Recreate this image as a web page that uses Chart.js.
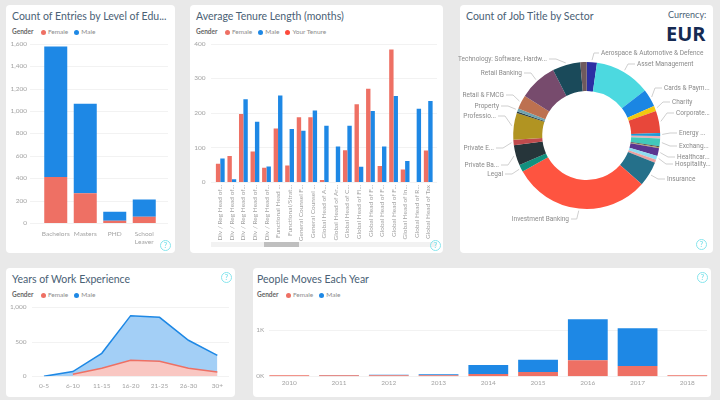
<!DOCTYPE html>
<html>
<head>
<meta charset="utf-8">
<title>Dashboard</title>
<script src="https://cdn.jsdelivr.net/npm/chart.js@4"></script>
<style>
    html, body { margin: 0; padding: 0; }
    body { width: 720px; height: 400px; background: #e9e9e9; overflow: hidden; position: relative; font-family: Lato, sans-serif; }
    canvas { position: absolute; left: 0; top: 0; }
    .card { position: absolute; background: #fff; border-radius: 4px; }
    .title { position: absolute; font-size: 10.5px; color: #4a6175; white-space: nowrap; line-height: 16px; }
    .legend { position: absolute; font-size: 6.5px; color: #8c8c8c; white-space: nowrap; line-height: 10px; display: flex; align-items: center; }
    .legend b { color: #666; font-weight: 700; margin-right: 7.5px; }
    .legend i { width: 5px; height: 5px; border-radius: 50%; display: inline-block; margin-right: 2px; }
    .legend span { margin-right: 6px; }
    .help { position: absolute; width: 9px; height: 9px; border: 1px solid #86e4ec; border-radius: 50%; color: #86e4ec; font-size: 7.5px; line-height: 9px; text-align: center; font-weight: 700; }
    .track { position: absolute; left: 211px; top: 242px; width: 226px; height: 5px; background: #f2f2f2; }
    .thumb { position: absolute; left: 264px; top: 242px; width: 35px; height: 5px; background: #bfbfbf; }
    .cur { position: absolute; color: #4a6175; font-size: 9px; left: 668px; top: 8px; line-height: 14px; }
    .eur { position: absolute; color: #152a52; font-family: "Open Sans", sans-serif; font-size: 20px; font-weight: 700; left: 666px; top: 20px; line-height: 28px; }
</style>
</head>
<body>
<script>
const femaleColor = '#ee7064';
const maleColor = '#1e88e5';
const tickColor = '#a3a3a3';

// Nivel de educacion
const eduLabels = ['Bachelors', 'Masters', 'PHD', ['School', 'Leaver']];
const eduFemale = [410, 265, 20, 55];
const eduMale = [1165, 800, 80, 155];
const eduTicks = [0, 200, 400, 600, 800, 1000, 1200, 1400, 1600];

// Antiguedad
const tenureLabels = ['Div / Reg Head of...', 'Div / Reg Head of...', 'Div / Reg Head of...', 'Div / Reg Head of...', 'Div / Reg Head of...',
    'Functional Head ...', 'Functional/Strat...', 'General Counsel F...', 'General Counsel ...', 'Global Head of A...',
    'Global Head of Ar...', 'Global Head of C...', 'Global Head of Fi...', 'Global Head of F...', 'Global Head of F...',
    'Global Head of F...', 'Global Head of In...', 'Global Head of R...', 'Global Head of Tax'];
const tenureFemale = [53, 75, 197, 88, 41, 155, 48, 187, 187, 6, 0, 92, 225, 270, 46, 383, 36, 0, 91];
const tenureMale = [68, 8, 239, 174, 45, 250, 153, 148, 207, 163, 103, 163, 44, 205, 103, 249, 61, 212, 234];
const tenureTicks = [0, 100, 200, 300, 400];

// Sectores
const sectorNames = ['Aerospace & Automotive & Defence', 'Asset Management', 'Cards & Paym...', 'Charity', 'Corporate...', 'Energy ...',
    'Consulting', 'Exchang...', 'Education', 'Government', 'Healthcar...', 'Hospitality...', 'Industrial', 'Insurance', 'Investment Banking',
    'Legal', 'Private Ba...', 'Private E...', 'Professio...', 'Publishing', 'Property', 'Retail & FMCG', 'Retail Banking',
    'Technology: Software, Hardw...', 'Transport'];
const sectorValues = [40, 220, 70, 20, 87, 12, 10, 30, 4, 4, 30, 16, 12, 98, 542, 28, 80, 22, 105, 6, 12, 55, 150, 110, 25];
const sectorColors = ['#2b2fa3', '#4cd9e0', '#1b86e3', '#f2c811', '#e8473a', '#1b9ad6', '#eab0b8', '#41c9bb', '#4a4a4a', '#b5a35a',
    '#5a3590', '#8fdcf0', '#eb9f9f', '#25708a', '#fe5440', '#12917f', '#26353a', '#c04b4d', '#b19422', '#2c3e46',
    '#6fa3ae', '#bd7150', '#774b6d', '#1a4a5a', '#6f5a5d'];

// Experiencia
const expLabels = ['0-5', '6-10', '11-15', '16-20', '21-25', '26-30', '30+'];
const expFemale = [null, 29, 116, 232, 217, 116, 63];
const expMale = [0, 68, 333, 879, 855, 522, 304];
const expTicks = [0, 500, 1000];

// Movimientos
const moveYears = ['2010', '2011', '2012', '2013', '2014', '2015', '2016', '2017', '2018'];
const moveFemale = [10, 2, 8, 10, 51, 94, 348, 225, 3];
const moveMale = [2, 6, 12, 25, 195, 268, 891, 818, null];
const moveTicks = [0, 1000];

// Posicion de las etiquetas del anillo (x, y de pagina, alineacion)
const sectorLabelPos = {
    'Aerospace & Automotive & Defence': [601, 53, 'left'],
    'Asset Management': [637, 64, 'left'],
    'Cards & Paym...': [664, 88, 'left'],
    'Charity': [672, 102, 'left'],
    'Corporate...': [676, 113, 'left'],
    'Energy ...': [679, 133, 'left'],
    'Exchang...': [679, 146, 'left'],
    'Healthcar...': [677, 157, 'left'],
    'Hospitality...': [675, 164, 'left'],
    'Insurance': [667, 179, 'left'],
    'Investment Banking': [569, 219, 'right'],
    'Legal': [503, 174, 'right'],
    'Private Ba...': [499, 165, 'right'],
    'Private E...': [494, 148, 'right'],
    'Professio...': [496, 116, 'right'],
    'Property': [499, 106, 'right'],
    'Retail & FMCG': [504, 95, 'right'],
    'Retail Banking': [522, 73, 'right'],
    'Technology: Software, Hardw...': [547, 59, 'right']
};

Chart.defaults.font.family = 'Lato, sans-serif';
Chart.defaults.font.size = 6.5;
Chart.defaults.color = tickColor;
Chart.defaults.animation = false;
Chart.defaults.plugins.legend.display = false;
Chart.defaults.plugins.tooltip.enabled = false;

function addDiv(cls, x, y, text, w, h) {
    const el = document.createElement('div');
    el.className = cls;
    if (x !== null && x !== undefined) el.style.left = x + 'px';
    if (y !== null && y !== undefined) el.style.top = y + 'px';
    if (w) el.style.width = w + 'px';
    if (h) el.style.height = h + 'px';
    if (text) el.textContent = text;
    document.body.appendChild(el);
    return el;
}

function addLegend(x, y, items) {
    const el = addDiv('legend', x, y);
    el.innerHTML = '<b>Gender</b>' + items.map(it => `<i style="background:${it[1]}"></i><span>${it[0]}</span>`).join('');
}

function newCanvas() {
    const c = document.createElement('canvas');
    c.width = 720;
    c.height = 400;
    c.style.width = '720px';
    c.style.height = '400px';
    document.body.appendChild(c);
    return c;
}

// Lineas de cuadricula mas anchas que el area de barras
const wideGrid = {
    id: 'wideGrid',
    beforeDatasetsDraw(chart, args, opts) {
        const y = chart.scales.y;
        const ctx = chart.ctx;
        ctx.save();
        ctx.strokeStyle = '#f2f2f2';
        ctx.lineWidth = 1;
        y.ticks.forEach(t => {
            const py = Math.round(y.getPixelForValue(t.value)) + 0.5;
            ctx.beginPath();
            ctx.moveTo(opts.x0, py);
            ctx.lineTo(opts.x1, py);
            ctx.stroke();
        });
        ctx.restore();
    }
};

// Escalas con area de dibujo fija en coordenadas de pagina
function pinnedOptions(box, yMax, yTicks, yFmt, gridX, xExtra, yPad) {
    return {
        responsive: false,
        layout: { padding: { left: 0, top: box.t, right: 720 - box.r, bottom: 0 } },
        plugins: { wideGrid: { x0: gridX[0], x1: gridX[1] } },
        scales: {
            x: Object.assign({
                stacked: false,
                grid: { display: false, drawTicks: false },
                border: { display: false },
                afterFit(s) { s.height = 400 - box.b; }
            }, xExtra),
            y: {
                min: 0,
                max: yMax,
                grid: { display: false, drawTicks: false },
                border: { display: false },
                ticks: { padding: yPad, callback: yFmt, color: tickColor },
                afterBuildTicks(s) { s.ticks = yTicks.map(v => ({ value: v })); },
                afterFit(s) { s.width = box.l; }
            }
        }
    };
}

function stackedSets(female, male, pct, minLen) {
    return [
        { label: 'Female', data: female, backgroundColor: femaleColor, barPercentage: pct, categoryPercentage: 1, minBarLength: minLen },
        { label: 'Male', data: male, backgroundColor: maleColor, barPercentage: pct, categoryPercentage: 1 }
    ];
}

function crearEducacion() {
    const opts = pinnedOptions({ l: 41, t: 43.7, r: 159, b: 223 }, 1600, eduTicks, v => v.toLocaleString('en-US'), [30, 168],
        { stacked: true, offset: true, ticks: { padding: 7, maxRotation: 0, autoSkip: false, color: tickColor } }, 14);
    opts.scales.y.stacked = true;
    new Chart(newCanvas(), {
        type: 'bar',
        plugins: [wideGrid],
        data: { labels: eduLabels, datasets: stackedSets(eduFemale, eduMale, 0.78, 0) },
        options: opts
    });
}

function crearAntiguedad() {
    const opts = pinnedOptions({ l: 214.5, t: 43.7, r: 434, b: 182 }, 400, tenureTicks, v => v, [211, 437],
        { offset: true, ticks: { padding: 3, minRotation: 90, maxRotation: 90, autoSkip: false, color: tickColor } }, 9);
    new Chart(newCanvas(), {
        type: 'bar',
        plugins: [wideGrid],
        data: {
            labels: tenureLabels,
            datasets: [
                { label: 'Female', data: tenureFemale, backgroundColor: femaleColor, barPercentage: 1, categoryPercentage: 0.76 },
                { label: 'Male', data: tenureMale, backgroundColor: maleColor, barPercentage: 1, categoryPercentage: 0.76 }
            ]
        },
        options: opts
    });
}

// Etiquetas y lineas guia del anillo
const sectorLabels = {
    id: 'sectorLabels',
    afterDraw(chart) {
        const ctx = chart.ctx;
        const arcs = chart.getDatasetMeta(0).data;
        ctx.save();
        ctx.font = '6.5px Roboto, sans-serif';
        ctx.textBaseline = 'middle';
        sectorNames.forEach((name, i) => {
            const pos = sectorLabelPos[name];
            if (!pos) return;
            const a = arcs[i];
            const mid = (a.startAngle + a.endAngle) / 2;
            const sx = a.x + Math.cos(mid) * (a.outerRadius + 2);
            const sy = a.y + Math.sin(mid) * (a.outerRadius + 2);
            const dir = pos[2] === 'left' ? -1 : 1;
            const ex = pos[0] + dir * 2;
            const kx = pos[0] + dir * Math.min(Math.abs(ex - sx), 9);
            ctx.strokeStyle = '#cfcfcf';
            ctx.lineWidth = 1;
            ctx.beginPath();
            ctx.moveTo(sx, sy);
            ctx.lineTo(kx, pos[1]);
            ctx.lineTo(ex, pos[1]);
            ctx.stroke();
            ctx.fillStyle = '#8a8a8a';
            ctx.textAlign = pos[2];
            ctx.fillText(name, pos[0], pos[1]);
        });
        ctx.restore();
    }
};

function crearSectores() {
    new Chart(newCanvas(), {
        type: 'doughnut',
        plugins: [sectorLabels],
        data: {
            labels: sectorNames,
            datasets: [{ data: sectorValues, backgroundColor: sectorColors, borderWidth: 0 }]
        },
        options: {
            responsive: false,
            radius: 73.5,
            cutout: '60.5%',
            layout: { padding: { left: 486.7, right: 33.3, top: 35.5, bottom: 164.5 } }
        }
    });
}

function crearExperiencia() {
    const opts = pinnedOptions({ l: 29.5, t: 307.3, r: 231.8, b: 376.3 }, 1000, expTicks, v => v.toLocaleString('en-US'), [32, 229],
        { offset: true, ticks: { padding: 5.5, maxRotation: 0, autoSkip: false, color: tickColor } }, 3);
    new Chart(newCanvas(), {
        type: 'line',
        plugins: [wideGrid],
        data: {
            labels: expLabels,
            datasets: [
                { label: 'Female', data: expFemale, borderColor: femaleColor, backgroundColor: '#f9c7c2', fill: 'origin', pointRadius: 0, borderWidth: 1.5, tension: 0, order: 0 },
                { label: 'Male', data: expMale, borderColor: maleColor, backgroundColor: '#a3cff6', fill: 'origin', pointRadius: 0, borderWidth: 1.5, tension: 0, order: 1 }
            ]
        },
        options: opts
    });
}

function crearMovimientos() {
    const opts = pinnedOptions({ l: 264.4, t: 307.3, r: 712.2, b: 376.3 }, 1500, moveTicks, v => (v / 1000) + 'K', [269, 707],
        { stacked: true, offset: true, ticks: { padding: 2.5, maxRotation: 0, autoSkip: false, color: tickColor } }, 0);
    opts.scales.y.stacked = true;
    new Chart(newCanvas(), {
        type: 'bar',
        plugins: [wideGrid],
        data: { labels: moveYears, datasets: stackedSets(moveFemale, moveMale, 0.8, 1) },
        options: opts
    });
}

// Tarjetas
addDiv('card', 6, 5, '', 169, 248);
addDiv('card', 190, 5, '', 253, 248);
addDiv('card', 460, 5, '', 253, 248);
addDiv('card', 6, 268, '', 229, 129);
addDiv('card', 253, 268, '', 458, 129);

// Titulos
addDiv('title', 12, 8, 'Count of Entries by Level of Edu...');
addDiv('title', 196, 8, 'Average Tenure Length (months)');
addDiv('title', 466, 8, 'Count of Job Title by Sector');
addDiv('title', 12, 271, 'Years of Work Experience');
addDiv('title', 257, 271, 'People Moves Each Year');
addDiv('cur', null, null, 'Currency:');
addDiv('eur', null, null, 'EUR');

// Leyendas
addLegend(12, 27, [['Female', femaleColor], ['Male', maleColor]]);
addLegend(196, 27, [['Female', femaleColor], ['Male', maleColor], ['Your Tenure', '#fd4a3b']]);
addLegend(12, 290, [['Female', femaleColor], ['Male', maleColor]]);
addLegend(257, 290, [['Female', femaleColor], ['Male', maleColor]]);

// Barra de desplazamiento
addDiv('track');
addDiv('thumb');

crearEducacion();
crearAntiguedad();
crearSectores();
crearExperiencia();
crearMovimientos();

// Iconos de ayuda
[[160, 240], [430, 240], [696, 239], [221, 272], [697, 272]].forEach(p => addDiv('help', p[0], p[1], '?'));
</script>
</body>
</html>
